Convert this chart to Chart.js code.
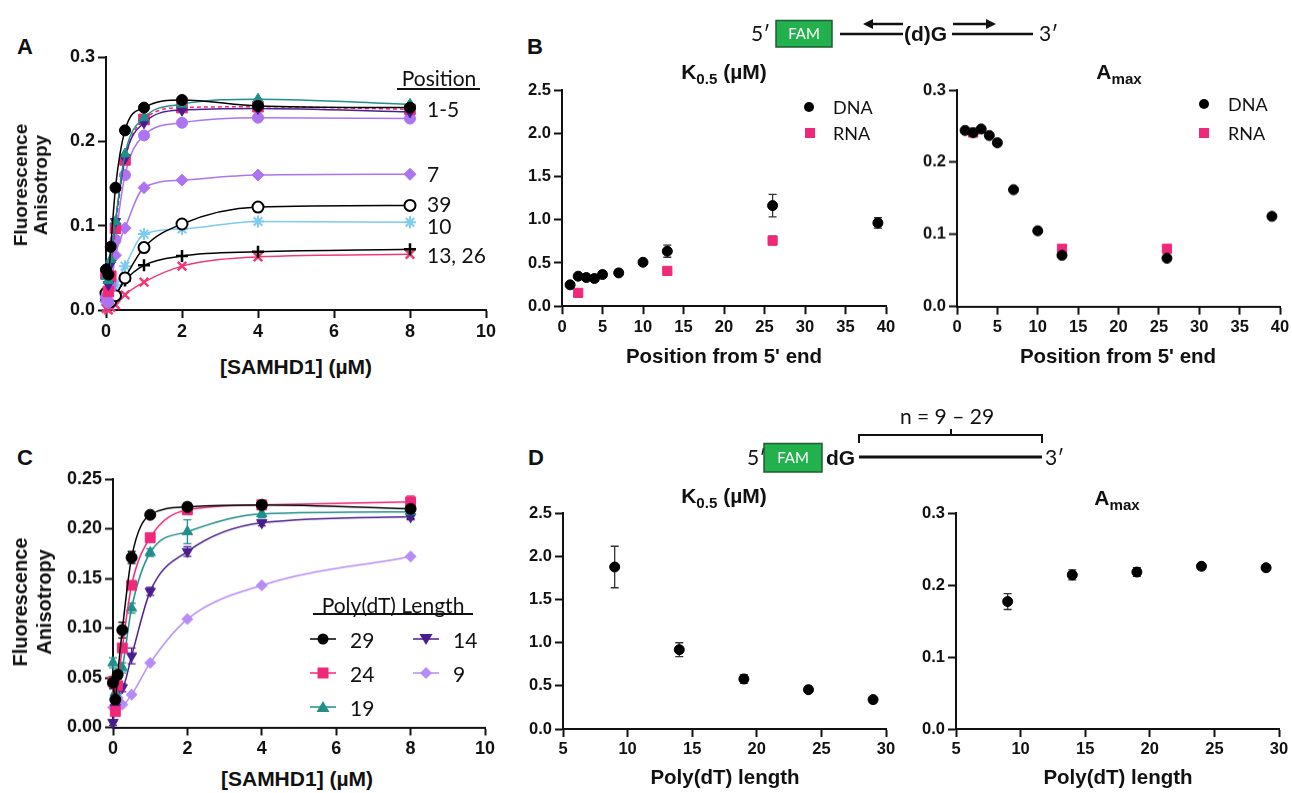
<!DOCTYPE html>
<html>
<head>
<meta charset="utf-8">
<title>SAMHD1 binding</title>
<script src="https://cdn.jsdelivr.net/npm/chart.js@4.4.1/dist/chart.umd.min.js"></script>
<style>
  body { margin: 0; background: #fff; }
  #page { position: relative; width: 1292px; height: 793px; overflow: hidden; font-family: Arial, "Liberation Sans", sans-serif; color: #111; }
  .plot { position: absolute; }
  .txt { position: absolute; transform: translate(-50%, -50%); white-space: nowrap; }
  .lt { position: absolute; transform: translate(0, -50%); white-space: nowrap; }
  .b { font-weight: bold; }
  .cal { font-family: Lato, "Liberation Sans", sans-serif; }
  .ytitle { position: absolute; transform: translate(-50%, -50%) rotate(-90deg); text-align: center; font-weight: bold; white-space: nowrap; }
  .sub { font-size: 0.72em; position: relative; top: 0.35em; }
  .dot { position: absolute; transform: translate(-50%, -50%); }
  svg.over { position: absolute; left: 0; top: 0; }
</style>
</head>
<body>
<div id="page">
  <div class="plot" id="pA"><canvas></canvas></div>
  <div class="plot" id="pB1"><canvas></canvas></div>
  <div class="plot" id="pB2"><canvas></canvas></div>
  <div class="plot" id="pC"><canvas></canvas></div>
  <div class="plot" id="pD1"><canvas></canvas></div>
  <div class="plot" id="pD2"><canvas></canvas></div>

  <!-- panel letters -->
  <div class="txt b" style="left:25px;top:47px;font-size:22px">A</div>
  <div class="txt b" style="left:535px;top:47px;font-size:22px">B</div>
  <div class="txt b" style="left:25px;top:458px;font-size:22px">C</div>
  <div class="txt b" style="left:536px;top:458px;font-size:22px">D</div>

  <!-- panel A text -->
  <div class="ytitle" style="left:31px;top:185px;line-height:20px;font-size:19px">Fluorescence<br>Anisotropy</div>
  <div class="txt b" style="left:296px;top:367px;font-size:21px">[SAMHD1] (µM)</div>
  <div class="txt cal" style="left:439px;top:77px;font-size:21px">Position</div>
  <div style="position:absolute;left:397px;top:88px;width:83px;height:2px;background:#111"></div>
  <div class="lt cal" style="left:427px;top:108px;font-size:21px">1-5</div>
  <div class="lt cal" style="left:427px;top:173px;font-size:21px">7</div>
  <div class="lt cal" style="left:427px;top:203px;font-size:21px">39</div>
  <div class="lt cal" style="left:427px;top:225px;font-size:21px">10</div>
  <div class="lt cal" style="left:427px;top:254px;font-size:21px">13, 26</div>

  <!-- panel B text -->
  <div class="txt b" style="left:724px;top:72px;font-size:21px">K<span class="sub">0.5</span> (µM)</div>
  <div class="txt b" style="left:1119px;top:72px;font-size:21px">A<span class="sub">max</span></div>
  <div class="txt b" style="left:724px;top:356px;font-size:20.5px">Position from 5' end</div>
  <div class="txt b" style="left:1118px;top:356px;font-size:20.5px">Position from 5' end</div>
  <div class="dot" style="left:809px;top:107px;width:10px;height:10px;border-radius:50%;background:#000"></div>
  <div class="lt cal" style="left:833px;top:107px;font-size:18px">DNA</div>
  <div class="dot" style="left:810px;top:133px;width:10px;height:10px;background:#f0287a"></div>
  <div class="lt cal" style="left:833px;top:133px;font-size:18px">RNA</div>
  <div class="dot" style="left:1204px;top:104px;width:10px;height:10px;border-radius:50%;background:#000"></div>
  <div class="lt cal" style="left:1228px;top:104px;font-size:18px">DNA</div>
  <div class="dot" style="left:1204px;top:133px;width:10px;height:10px;background:#f0287a"></div>
  <div class="lt cal" style="left:1228px;top:133px;font-size:18px">RNA</div>

  <!-- panel C text -->
  <div class="ytitle" style="left:32px;top:602px;line-height:24px;font-size:20px">Fluorescence<br>Anisotropy</div>
  <div class="txt b" style="left:297px;top:779px;font-size:21px">[SAMHD1] (µM)</div>
  <div class="txt cal" style="left:393px;top:604px;font-size:21px">Poly(dT) Length</div>
  <div style="position:absolute;left:313px;top:613px;width:160px;height:2px;background:#111"></div>
  <div id="legC"></div>

  <!-- panel D text -->
  <div class="txt b" style="left:724px;top:496px;font-size:21px">K<span class="sub">0.5</span> (µM)</div>
  <div class="txt b" style="left:1117px;top:498px;font-size:21px">A<span class="sub">max</span></div>
  <div class="txt b" style="left:725px;top:777px;font-size:20.5px">Poly(dT) length</div>
  <div class="txt b" style="left:1118px;top:777px;font-size:20.5px">Poly(dT) length</div>

  <!-- oligo diagrams -->
  <svg class="over" width="1292" height="793">
    <g font-family="Lato, 'Liberation Sans', sans-serif" fill="#111">
      <text x="751" y="41" font-size="21">5′</text>
      <rect x="776" y="20.5" width="56" height="26.5" fill="#22b14c" stroke="#1d5e34" stroke-width="1.5"/>
      <text x="804" y="39" font-size="15" fill="#fff" text-anchor="middle">FAM</text>
      <line x1="840" y1="34" x2="903" y2="34" stroke="#111" stroke-width="2.5"/>
      <line x1="870" y1="24" x2="903" y2="24" stroke="#111" stroke-width="2.5"/>
      <polygon points="863,24 873,19 873,29" fill="#111"/>
      <text x="904" y="41" font-size="21" font-weight="bold" font-family="Arial, 'Liberation Sans', sans-serif">(d)G</text>
      <line x1="952" y1="34" x2="1033" y2="34" stroke="#111" stroke-width="2.5"/>
      <line x1="953" y1="24" x2="987" y2="24" stroke="#111" stroke-width="2.5"/>
      <polygon points="996,24 986,19 986,29" fill="#111"/>
      <text x="1039" y="41" font-size="21">3′</text>

      <text x="947" y="424" font-size="21" text-anchor="middle">n = 9 – 29</text>
      <path d="M859 443 L859 435 L1042 435 L1042 443 M951 435 L951 429" fill="none" stroke="#111" stroke-width="2"/>
      <text x="747" y="465" font-size="21">5′</text>
      <rect x="764" y="443.5" width="58" height="28.5" fill="#22b14c" stroke="#1d5e34" stroke-width="1.5"/>
      <text x="793" y="463" font-size="15" fill="#fff" text-anchor="middle">FAM</text>
      <text x="826" y="465" font-size="21" font-weight="bold" font-family="Arial, 'Liberation Sans', sans-serif">dG</text>
      <line x1="859" y1="457" x2="1042" y2="457" stroke="#111" stroke-width="3"/>
      <text x="1045" y="465" font-size="21">3′</text>
    </g>
  </svg>
</div>

<script>
// ---- data ----
// panel A: anisotropy vs [SAMHD1] for different dG positions
const concA = [0, 0.0625, 0.125, 0.25, 0.5, 1, 2, 4, 8];
const aPos1 = [0.048, 0.042, 0.075, 0.145, 0.213, 0.240, 0.249, 0.242, 0.240];
const aPos3 = [0.040, 0.035, 0.060, 0.105, 0.185, 0.228, 0.244, 0.250, 0.244];
const aPos4 = [0.045, 0.030, 0.055, 0.105, 0.180, 0.222, 0.237, 0.239, 0.235];
const aRna2 = [0.043, 0.022, 0.040, 0.097, 0.178, 0.226, 0.240, 0.241, 0.238];
const aPos5 = [0.015, 0.010, 0.030, 0.083, 0.160, 0.207, 0.222, 0.228, 0.227];
const aPos7 = [0.010, 0.008, 0.025, 0.065, 0.097, 0.145, 0.154, 0.160, 0.161];
const aPos39 = [0.020, 0.012, 0.010, 0.017, 0.038, 0.074, 0.102, 0.122, 0.124];
const aPos10 = [0.015, 0.012, 0.020, 0.030, 0.052, 0.090, 0.096, 0.105, 0.104];
const aPos13 = [0.012, 0.008, 0.012, 0.018, 0.035, 0.053, 0.064, 0.069, 0.072];
const aPos26 = [0.002, 0.000, 0.003, 0.006, 0.018, 0.033, 0.052, 0.063, 0.066];

// panel B: fit parameters vs position
const posDNA = [1, 2, 3, 4, 5, 7, 10, 13, 26, 39];
const posRNA = [2, 13, 26];
const kDNA = [0.247, 0.347, 0.331, 0.320, 0.366, 0.385, 0.508, 0.636, 1.163, 0.963];
const kDNAerr = [0, 0, 0, 0, 0, 0, 0, 0.07, 0.13, 0.06];
const kRNA = [0.154, 0.408, 0.759];
const kRNAerr = [0, 0, 0.05];
const amaxDNA = [0.244, 0.241, 0.246, 0.237, 0.227, 0.162, 0.105, 0.071, 0.067, 0.125];
const amaxRNA = [0.241, 0.080, 0.080];

// panel C: anisotropy vs [SAMHD1] for poly(dT) lengths
const concC = [0, 0.0625, 0.125, 0.25, 0.5, 1, 2, 4, 8];
const c29 = [0.045, 0.028, 0.053, 0.098, 0.171, 0.214, 0.222, 0.224, 0.220];
const c29err = [0.006, 0.004, 0.004, 0.008, 0.006, 0.003, 0.004, 0.003, 0.010];
const c24 = [0.046, 0.016, 0.042, 0.080, 0.143, 0.191, 0.219, 0.224, 0.227];
const c24err = [0.004, 0.003, 0.004, 0.004, 0.004, 0.004, 0.004, 0.003, 0.006];
const c19 = [0.065, 0.035, 0.045, 0.060, 0.120, 0.176, 0.197, 0.215, 0.217];
const c19err = [0.005, 0.004, 0.004, 0.005, 0.005, 0.004, 0.012, 0.004, 0.004];
const c14 = [0.005, 0.020, 0.038, 0.040, 0.072, 0.137, 0.177, 0.206, 0.212];
const c14err = [0.003, 0.003, 0.004, 0.004, 0.008, 0.004, 0.005, 0.003, 0.003];
const c9 = [0.020, 0.018, 0.030, 0.023, 0.033, 0.065, 0.109, 0.143, 0.172];
const legendC = ['29', '24', '19', '14', '9'];

// panel D: fit parameters vs poly(dT) length
const lenD = [9, 14, 19, 24, 29];
const kD = [1.875, 0.918, 0.579, 0.455, 0.340];
const kDerr = [0.24, 0.08, 0.05, 0, 0];
const amaxD = [0.177, 0.214, 0.218, 0.226, 0.224];
const amaxDerr = [0.011, 0.007, 0.006, 0, 0];

// ---- colours ----
const BLACK = '#000', TEAL = '#1f8f8a', MAGENTA = '#f0287a', DPURPLE = '#4a1d8f',
      LPURPLE = '#ad74f2', LBLUE = '#7ccbf0', PINK = '#ee3a78', LILAC = '#b68cf6';

const FONT = 'Arial, "Liberation Sans", sans-serif';

// vertical error bars drawn under the markers
const errorBars = {
  id: 'errorBars',
  beforeDatasetsDraw(chart) {
    const ctx = chart.ctx, ys = chart.scales.y;
    chart.data.datasets.forEach((ds, i) => {
      if (!ds.errors) return;
      chart.getDatasetMeta(i).data.forEach((pt, j) => {
        const e = ds.errors[j];
        if (!e) return;
        const v = ds.data[j].y;
        const top = ys.getPixelForValue(v + e), bot = ys.getPixelForValue(v - e);
        ctx.save();
        ctx.strokeStyle = ds.errColor || '#333';
        ctx.lineWidth = 1.3;
        ctx.beginPath();
        ctx.moveTo(pt.x, top); ctx.lineTo(pt.x, bot);
        ctx.moveTo(pt.x - 4, top); ctx.lineTo(pt.x + 4, top);
        ctx.moveTo(pt.x - 4, bot); ctx.lineTo(pt.x + 4, bot);
        ctx.stroke();
        ctx.restore();
      });
    });
  }
};

function axis(min, max, step, digits, size, fit, isX) {
  return {
    type: 'linear', min: min, max: max,
    ticks: {
      stepSize: step, color: '#111', padding: 3, autoSkip: false, maxRotation: 0,
      font: { family: FONT, size: size, weight: 'bold' },
      callback: v => v.toFixed(digits)
    },
    grid: { drawOnChartArea: false, drawTicks: true, tickLength: 8, tickWidth: 2, tickColor: '#111' },
    border: { display: true, color: '#111', width: 2 },
    afterFit: s => { if (isX) s.height = fit; else s.width = fit; }
  };
}

function makeChart(id, box, scales, datasets) {
  const el = document.getElementById(id);
  const left = box.L - box.yW, top = box.T - 14;
  el.style.left = left + 'px';
  el.style.top = top + 'px';
  el.style.width = (box.R + 22 - left) + 'px';
  el.style.height = (box.B + box.xH - top) + 'px';
  return new Chart(el.querySelector('canvas'), {
    type: 'scatter',
    data: { datasets: datasets },
    options: {
      responsive: true, maintainAspectRatio: false, animation: false,
      layout: { padding: { top: 14, right: 22, left: 0, bottom: 0 } },
      plugins: { legend: { display: false }, tooltip: { enabled: false } },
      scales: scales
    },
    plugins: [errorBars]
  });
}

function series(xs, ys, color, style, radius, extra) {
  return Object.assign({
    data: xs.map((x, i) => ({ x: x, y: ys[i] })),
    showLine: true, cubicInterpolationMode: 'monotone',
    borderColor: color, backgroundColor: color, borderWidth: 1.5,
    pointStyle: style, pointRadius: radius,
    pointBorderColor: color, pointBackgroundColor: color, pointBorderWidth: 1,
    clip: false
  }, extra || {});
}

function dots(xs, ys, color, style, radius, errs) {
  return series(xs, ys, color, style, radius, { showLine: false, errors: errs, errColor: '#333' });
}

// ---- panel A ----
makeChart('pA', { L: 106, T: 57, R: 486, B: 310, yW: 70, xH: 40 }, {
  x: axis(0, 10, 2, 0, 18, 40, true),
  y: axis(0, 0.3, 0.1, 1, 18, 70, false)
}, [
  series(concA, aPos1, BLACK, 'circle', 5.5),
  series(concA, aPos3, TEAL, 'triangle', 6),
  series(concA, aPos4, DPURPLE, 'triangle', 6, { pointRotation: 180 }),
  series(concA, aRna2, MAGENTA, 'rect', 7.5, { borderDash: [4, 3] }),
  series(concA, aPos5, LPURPLE, 'circle', 5.5),
  series(concA, aPos7, LPURPLE, 'rectRot', 6),
  series(concA, aPos39, BLACK, 'circle', 5.5, { pointBackgroundColor: '#fff', pointBorderWidth: 2 }),
  series(concA, aPos10, LBLUE, 'star', 6, { pointBorderWidth: 2 }),
  series(concA, aPos13, BLACK, 'cross', 6, { pointBorderWidth: 2.5 }),
  series(concA, aPos26, PINK, 'crossRot', 6, { pointBorderWidth: 2.5 })
]);

// ---- panel B ----
makeChart('pB1', { L: 562, T: 89.5, R: 886, B: 305.7, yW: 60, xH: 40 }, {
  x: axis(0, 40, 5, 0, 16.5, 40, true),
  y: axis(0, 2.5, 0.5, 1, 16.5, 60, false)
}, [
  dots(posDNA, kDNA, BLACK, 'circle', 5, kDNAerr),
  dots(posRNA, kRNA, MAGENTA, 'rect', 6.5, kRNAerr)
]);

makeChart('pB2', { L: 957, T: 90, R: 1280, B: 305.7, yW: 60, xH: 40 }, {
  x: axis(0, 40, 5, 0, 16.5, 40, true),
  y: axis(0, 0.3, 0.1, 1, 16.5, 60, false)
}, [
  dots(posDNA, amaxDNA, BLACK, 'circle', 5),
  dots(posRNA, amaxRNA, MAGENTA, 'rect', 6.5)
]);

// ---- panel C ----
makeChart('pC', { L: 113, T: 479, R: 485, B: 726.5, yW: 72, xH: 40 }, {
  x: axis(0, 10, 2, 0, 18, 40, true),
  y: axis(0, 0.25, 0.05, 2, 18, 72, false)
}, [
  series(concC, c29, BLACK, 'circle', 5.5, { errors: c29err, errColor: BLACK }),
  series(concC, c24, MAGENTA, 'rect', 7, { errors: c24err, errColor: MAGENTA }),
  series(concC, c19, TEAL, 'triangle', 6, { errors: c19err, errColor: TEAL }),
  series(concC, c14, DPURPLE, 'triangle', 6, { pointRotation: 180, errors: c14err, errColor: DPURPLE }),
  series(concC, c9, LILAC, 'rectRot', 5.5)
]);

// ---- panel D ----
makeChart('pD1', { L: 563, T: 513.3, R: 886, B: 729.3, yW: 60, xH: 40 }, {
  x: axis(5, 30, 5, 0, 16.5, 40, true),
  y: axis(0, 2.5, 0.5, 1, 16.5, 60, false)
}, [
  dots(lenD, kD, BLACK, 'circle', 5, kDerr)
]);

makeChart('pD2', { L: 956, T: 513.3, R: 1279, B: 729.3, yW: 60, xH: 40 }, {
  x: axis(5, 30, 5, 0, 16.5, 40, true),
  y: axis(0, 0.3, 0.1, 1, 16.5, 60, false)
}, [
  dots(lenD, amaxD, BLACK, 'circle', 5, amaxDerr)
]);

// ---- panel C legend (line + marker, two columns) ----
const legStyle = [
  { color: BLACK, shape: '<circle cx="13" cy="8" r="5.5"/>', x: 310, y: 639 },
  { color: MAGENTA, shape: '<rect x="7.5" y="2.5" width="11" height="11"/>', x: 310, y: 673 },
  { color: TEAL, shape: '<polygon points="13,2 19.5,13 6.5,13"/>', x: 310, y: 707 },
  { color: DPURPLE, shape: '<polygon points="6.5,3 19.5,3 13,14"/>', x: 413, y: 639 },
  { color: LILAC, shape: '<polygon points="13,2 19,8 13,14 7,8"/>', x: 413, y: 673 }
];
const legBox = document.getElementById('legC');
legendC.forEach((lab, i) => {
  const s = legStyle[i];
  legBox.insertAdjacentHTML('beforeend',
    '<svg style="position:absolute;left:' + s.x + 'px;top:' + (s.y - 8) + 'px" width="26" height="16">' +
    '<line x1="0" y1="8" x2="26" y2="8" stroke="' + s.color + '" stroke-width="1.5"/>' +
    '<g fill="' + s.color + '">' + s.shape + '</g></svg>' +
    '<div class="lt cal" style="left:' + (s.x + 40) + 'px;top:' + s.y + 'px;font-size:21px">' + lab + '</div>');
});
</script>
</body>
</html>
